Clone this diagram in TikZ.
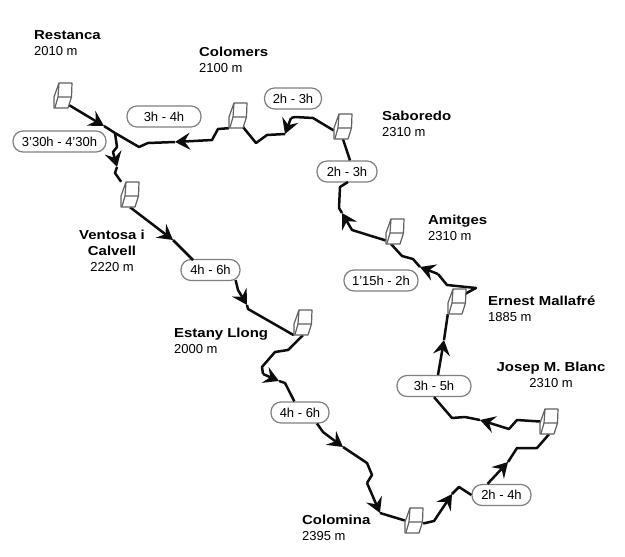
\documentclass[tikz,border=0pt]{standalone}
\usepackage{fontspec}
\setmainfont{Liberation Sans}
\newfontfamily\namef{Liberation Sans Bold}[FakeStretch=1.15]
\usetikzlibrary{arrows.meta}
\tikzset{
  x=1pt,y=-1pt,
  hutbox/.style={minimum width=18pt,minimum height=25pt,inner sep=0pt},
  hutline/.style={draw=black!62,line width=1.2pt,fill=white,line join=round},
  route/.style={draw=black!95,line width=2.5pt,line join=round},
  tipped/.style={route,-{Stealth[length=15pt,width=17pt,inset=5.5pt]}},
  timebox/.style={draw=black!50,line width=1.2pt,fill=white,rounded corners=10pt,inner sep=0pt,minimum height=21pt,font=\fontsize{13}{15}\selectfont},
  place/.style={inner sep=0pt,font=\fontsize{13}{16}\selectfont},
}
\newcommand{\nm}[1]{{\namef\fontsize{13}{16}\selectfont #1}}
\begin{document}
\begin{tikzpicture}
\useasboundingbox (0,0) rectangle (625,557);
% huts
\node[hutbox] (restanca) at (63,95.5) {};
\node[hutbox] (colomers) at (238,115.5) {};
\node[hutbox] (saboredo) at (343,126.5) {};
\node[hutbox] (ventosa) at (130,194.5) {};
\node[hutbox] (amitges) at (395,231.5) {};
\node[hutbox] (ernest) at (457,301.5) {};
\node[hutbox] (estany) at (303,322.5) {};
\node[hutbox] (josep) at (549,421.5) {};
\node[hutbox] (colomina) at (414,520.5) {};
% time labels
\node[timebox,minimum width=74pt] (t34) at (164,116.5) {3h - 4h};
\node[timebox,minimum width=57pt] (t23a) at (293,98.5) {2h - 3h};
\node[timebox,minimum width=93pt] (t330) at (59.5,141.5) {3'30h - 4'30h};
\node[timebox,minimum width=60pt] (t23b) at (347,171.5) {2h - 3h};
\node[timebox,minimum width=59pt] (t46a) at (210.5,270) {4h - 6h};
\node[timebox,minimum width=74pt] (t115) at (381,280.5) {1'15h - 2h};
\node[timebox,minimum width=74pt] (t35) at (434,386) {3h - 5h};
\node[timebox,minimum width=58pt] (t46b) at (300,412.5) {4h - 6h};
\node[timebox,minimum width=59pt] (t24) at (501.5,495) {2h - 4h};
% arrow tips and junction
\coordinate (jct) at (115,133);
\coordinate (a1) at (104,126);
\coordinate (a2) at (175,142);
\coordinate (a3) at (117,167);
\coordinate (a4) at (173,240);
\coordinate (a5) at (247,305);
\coordinate (a6) at (279,381);
\coordinate (a7) at (343,447);
\coordinate (a8) at (380,513);
\coordinate (a9) at (452,494);
\coordinate (a10) at (508,462);
\coordinate (a11) at (480,420);
\coordinate (a12) at (444,340);
\coordinate (a13) at (420,267);
\coordinate (a14) at (342,213);
\coordinate (a15) at (285,134);
% routes
\draw[tipped] (restanca.south east) ++(-3,-3) -- (a1);
\draw[route] (a1) -- (jct);
\draw[tipped] (colomers.south west) -- (218,129) -- (212,140) -- (a2);
\draw[route] (a2) -- (148,143) -- (139,147) -- (jct);
\draw[tipped] (jct) -- (117,147) -- (113,152) -- (a3);
\draw[route] (a3) -- (115,173) -- (ventosa);
\draw[tipped] (ventosa.south) -- (a4);
\draw[route] (a4) -- (193,260);
\draw[tipped] (t46a.south east) ++(-5,-1) -- (238,290) -- (a5);
\draw[route] (a5) -- (248,309) -- (estany.south west);
\draw[route] (estany.south) -- (288,350) -- (275,352) -- (262,367) -- (263,374);
\draw[tipped] (263,374) -- (a6);
\draw[route] (a6) -- (285,383) -- (t46b);
\draw[tipped] (t46b) ++(17,11) -- (323,432) -- (a7);
\draw[route] (a7) -- (367,463) -- (372,475) -- (367,483);
\draw[tipped] (367,483) -- (a8);
\draw[route] (a8) -- (colomina.west);
\draw[tipped] (colomina.east) ++(0,3) -- (434,521) -- (a9);
\draw[route] (a9) -- (459,487) -- (t24.west);
\draw[tipped] (t24.north) ++(-14,0) -- (a10);
\draw[route] (a10) -- (517,448) -- (537,448) -- (544,440) -- (josep.south);
\draw[tipped] (josep.west) -- (517,420) -- (509,429) -- (a11);
\draw[route] (a11) -- (465,417) -- (452,418) -- (t35.south);
\draw[tipped] (t35.north) ++(4,0) -- (a12);
\draw[route] (a12) -- (ernest.south west);
\draw[route] (ernest.north east) ++(-1,5) -- (476,288) -- (447,285) -- (438,274);
\draw[tipped] (438,274) -- (a13);
\draw[route] (a13) -- (413,259) -- (402,256) -- (391,244);
\draw[tipped] (amitges.west) ++(0,9) -- (352,230) -- (a14);
\draw[route] (a14) -- (339,208) -- (340,187) -- (348,182);
\draw[route] (t23b.north) ++(3,0) -- (saboredo.south);
\draw[route] (saboredo.west) ++(0,4) -- (313,118) -- (295,117) -- (291,118);
\draw[tipped] (291,118) -- (a15);
\draw[route] (a15) -- (267,135) -- (256,143) -- (243,127);
% hut drawings
\foreach \h in {restanca,colomers,saboredo,ventosa,amitges,ernest,estany,josep,colomina}{
  \begin{scope}[shift={(\h.center)},shift={(-9,-12.5)}]
    \draw[hutline] (5,0) -- (18,0) -- (17.5,14) -- (14,25) -- (0,25) -- (0,14) -- cycle;
    \draw[hutline,fill=none] (5,0) -- (4,14) -- (17.5,14) (4,14) -- (1,24.5);
  \end{scope}
}
% place names
\node[place,anchor=west,align=left] (n1) at (34,43) {\nm{Restanca}\\2010 m};
\node[place,anchor=west,align=left] (n2) at (199,60) {\nm{Colomers}\\2100 m};
\node[place,anchor=west,align=left] (n3) at (382,124) {\nm{Saboredo}\\2310 m};
\node[place,anchor=west,align=left] (n4) at (428,228) {\nm{Amitges}\\2310 m};
\node[place,anchor=west,align=left] (n5) at (488,309) {\nm{Ernest Mallafré}\\1885 m};
\node[place,anchor=west,align=left] (n6) at (174,341) {\nm{Estany Llong}\\2000 m};
\node[place,align=center] (n7) at (551,375) {\nm{Josep M. Blanc}\\2310 m};
\node[place,anchor=west,align=left] (n8) at (302,528) {\nm{Colomina}\\2395 m};
\node[place,align=center] (n9) at (112,251) {\nm{Ventosa i}\\\nm{Calvell}\\2220 m};
\end{tikzpicture}
\end{document}
